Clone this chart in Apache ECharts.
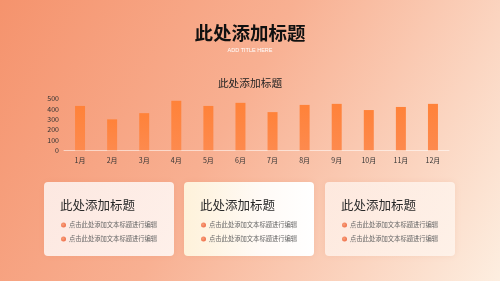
<!DOCTYPE html>
<html><head><meta charset="utf-8">
<script src="https://cdn.jsdelivr.net/npm/echarts@6/dist/echarts.min.js"></script>
<style>html,body{margin:0;padding:0;width:500px;height:281px;overflow:hidden}#c{width:500px;height:281px}</style>
</head><body><div id="c"></div>
<script>
const categories = ['1月','2月','3月','4月','5月','6月','7月','8月','9月','10月','11月','12月'];
const values = [430, 300, 360, 480, 430, 460, 370, 440, 450, 390, 420, 450];
const yTicks = [0, 100, 200, 300, 400, 500];
const mainTitle = '此处添加标题';
const subTitle = 'ADD TITLE HERE';
const chartTitle = '此处添加标题';
const cardTitles = ['此处添加标题','此处添加标题','此处添加标题'];
const cardLines = ['点击此处添加文本标题进行编辑','点击此处添加文本标题进行编辑'];

const FONT = '"Noto Sans CJK SC", "Noto Sans", sans-serif';
const chart = echarts.init(document.getElementById('c'), null, {renderer:'canvas'});

const cardX = [44, 184, 325];
const cardFills = [
  new echarts.graphic.LinearGradient(0,0,1,1,[{offset:0,color:'rgba(253,236,230,0.95)'},{offset:1,color:'rgba(255,246,242,0.92)'}]),
  new echarts.graphic.LinearGradient(0,0,1,0,[{offset:0,color:'#FEF2DA'},{offset:0.6,color:'#FFFAF6'},{offset:1,color:'#FFFFFF'}]),
  new echarts.graphic.LinearGradient(0,0,1,1,[{offset:0,color:'rgba(255,240,232,0.85)'},{offset:1,color:'rgba(255,244,236,0.9)'}])
];
const graphics = [{
  type:'rect', z:-10, silent:true,
  shape:{x:0,y:0,width:500,height:281},
  style:{fill:new echarts.graphic.LinearGradient(0,0,1,1,[
    {offset:0,color:'#F5936D'},{offset:0.45,color:'#F8B092'},{offset:1,color:'#FDEEE0'}])}
}];
cardX.forEach((x,i)=>{
  graphics.push({type:'rect', z:1, shape:{x:x,y:182,width:130,height:74,r:4},
    style:{fill:cardFills[i], shadowBlur:6, shadowColor:'rgba(200,100,60,0.12)'}});
  graphics.push({type:'text', z:2, style:{x:x+16,y:205.5,text:cardTitles[i],font:'12.5px '+FONT,fill:'#2a2a2a',textVerticalAlign:'middle'}});
  cardLines.forEach((t,j)=>{
    const y = 225 + j*14;
    graphics.push({type:'circle', z:2, shape:{cx:x+19.5,cy:y,r:2.5},
      style:{fill:new echarts.graphic.RadialGradient(0.4,0.4,0.7,[{offset:0,color:'#F8A07A'},{offset:1,color:'#EE6A45'}])}});
    graphics.push({type:'text', z:2, style:{x:x+25,y:y,text:t,font:'6.3px '+FONT,fill:'#666',textVerticalAlign:'middle'}});
  });
});
graphics.push({type:'text', z:2, style:{x:250,y:33,text:mainTitle,font:'bold 18.5px '+FONT,fill:'#111',textAlign:'center',textVerticalAlign:'middle'}});
graphics.push({type:'text', z:2, style:{x:250,y:50.5,text:subTitle,font:'5.5px Arial, sans-serif',fill:'#FFFFFF',textAlign:'center',textVerticalAlign:'middle'}});
graphics.push({type:'text', z:2, style:{x:250,y:83,text:chartTitle,font:'10.7px '+FONT,fill:'#222',textAlign:'center',textVerticalAlign:'middle'}});

chart.setOption({
  animation:false,
  graphic: graphics,
  grid:{left:64,right:51,top:98.7,bottom:130.7},
  xAxis:{type:'category',data:categories,
    axisLine:{lineStyle:{color:'rgba(255,255,255,0.55)',width:1}},
    axisTick:{show:false},
    axisLabel:{fontSize:7,color:'#333',margin:7,fontFamily:FONT}},
  yAxis:{type:'value',min:yTicks[0],max:yTicks[yTicks.length-1],interval:100,
    axisLine:{show:false},axisTick:{show:false},splitLine:{show:false},
    axisLabel:{fontSize:7,color:'#333',margin:5,fontFamily:FONT}},
  series:[{type:'bar',data:values,barWidth:10,
    itemStyle:{color:new echarts.graphic.LinearGradient(0,0,0,1,[{offset:0,color:'#FF8239'},{offset:1,color:'#FD8A4E'}])}}]
});
</script></body></html>
